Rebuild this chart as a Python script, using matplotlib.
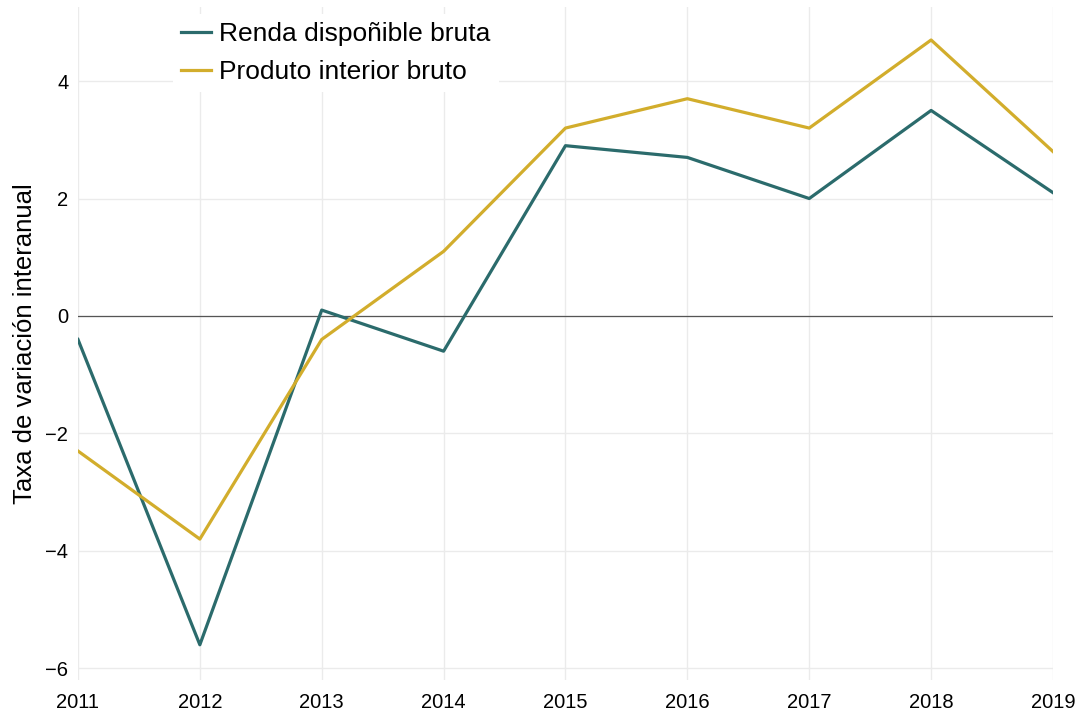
import matplotlib.pyplot as plt

plt.rcParams['font.family'] = ['Liberation Sans', 'DejaVu Sans']

years = [2011, 2012, 2013, 2014, 2015, 2016, 2017, 2018, 2019]
renda = [-0.4, -5.6, 0.1, -0.6, 2.9, 2.7, 2.0, 3.5, 2.1]
pib = [-2.3, -3.8, -0.4, 1.1, 3.2, 3.7, 3.2, 4.7, 2.8]
yticks = [-6, -4, -2, 0, 2, 4]

fig = plt.figure(figsize=(10.77, 7.11), dpi=100)
ax = fig.add_axes([0.0724, 0.0436, 0.9053, 0.9464])

ax.plot(years, renda, color='#2b6b6c', lw=2.3, label='Renda dispoñible bruta')
ax.plot(years, pib, color='#d2ad2c', lw=2.3, label='Produto interior bruto')
ax.axhline(0, color='#555555', lw=0.9, zorder=1)

ax.set_xlim(2011, 2019)
ax.set_ylim(-6.2, 5.26)
ax.set_xticks(years)
ax.set_yticks(yticks)
ax.set_yticklabels(['\u22126', '\u22124', '\u22122', '0', '2', '4'])
ax.grid(True, color='#ebebeb', lw=1)
ax.set_axisbelow(True)
for s in ax.spines.values():
    s.set_visible(False)
ax.tick_params(length=0, labelsize=14.5, pad=7)
ax.tick_params(axis='x', pad=9)
ax.set_ylabel('Taxa de variación interanual', fontsize=18.5, labelpad=6)

leg = ax.legend(loc='upper left', bbox_to_anchor=(0.084, 1.009), fontsize=19,
                frameon=True, facecolor='white', edgecolor='white',
                framealpha=1, handlelength=1.15, handletextpad=0.3,
                labelspacing=0.54, borderpad=0.3)
leg.get_frame().set_linewidth(0)

fig.savefig('out.png', dpi=100)
